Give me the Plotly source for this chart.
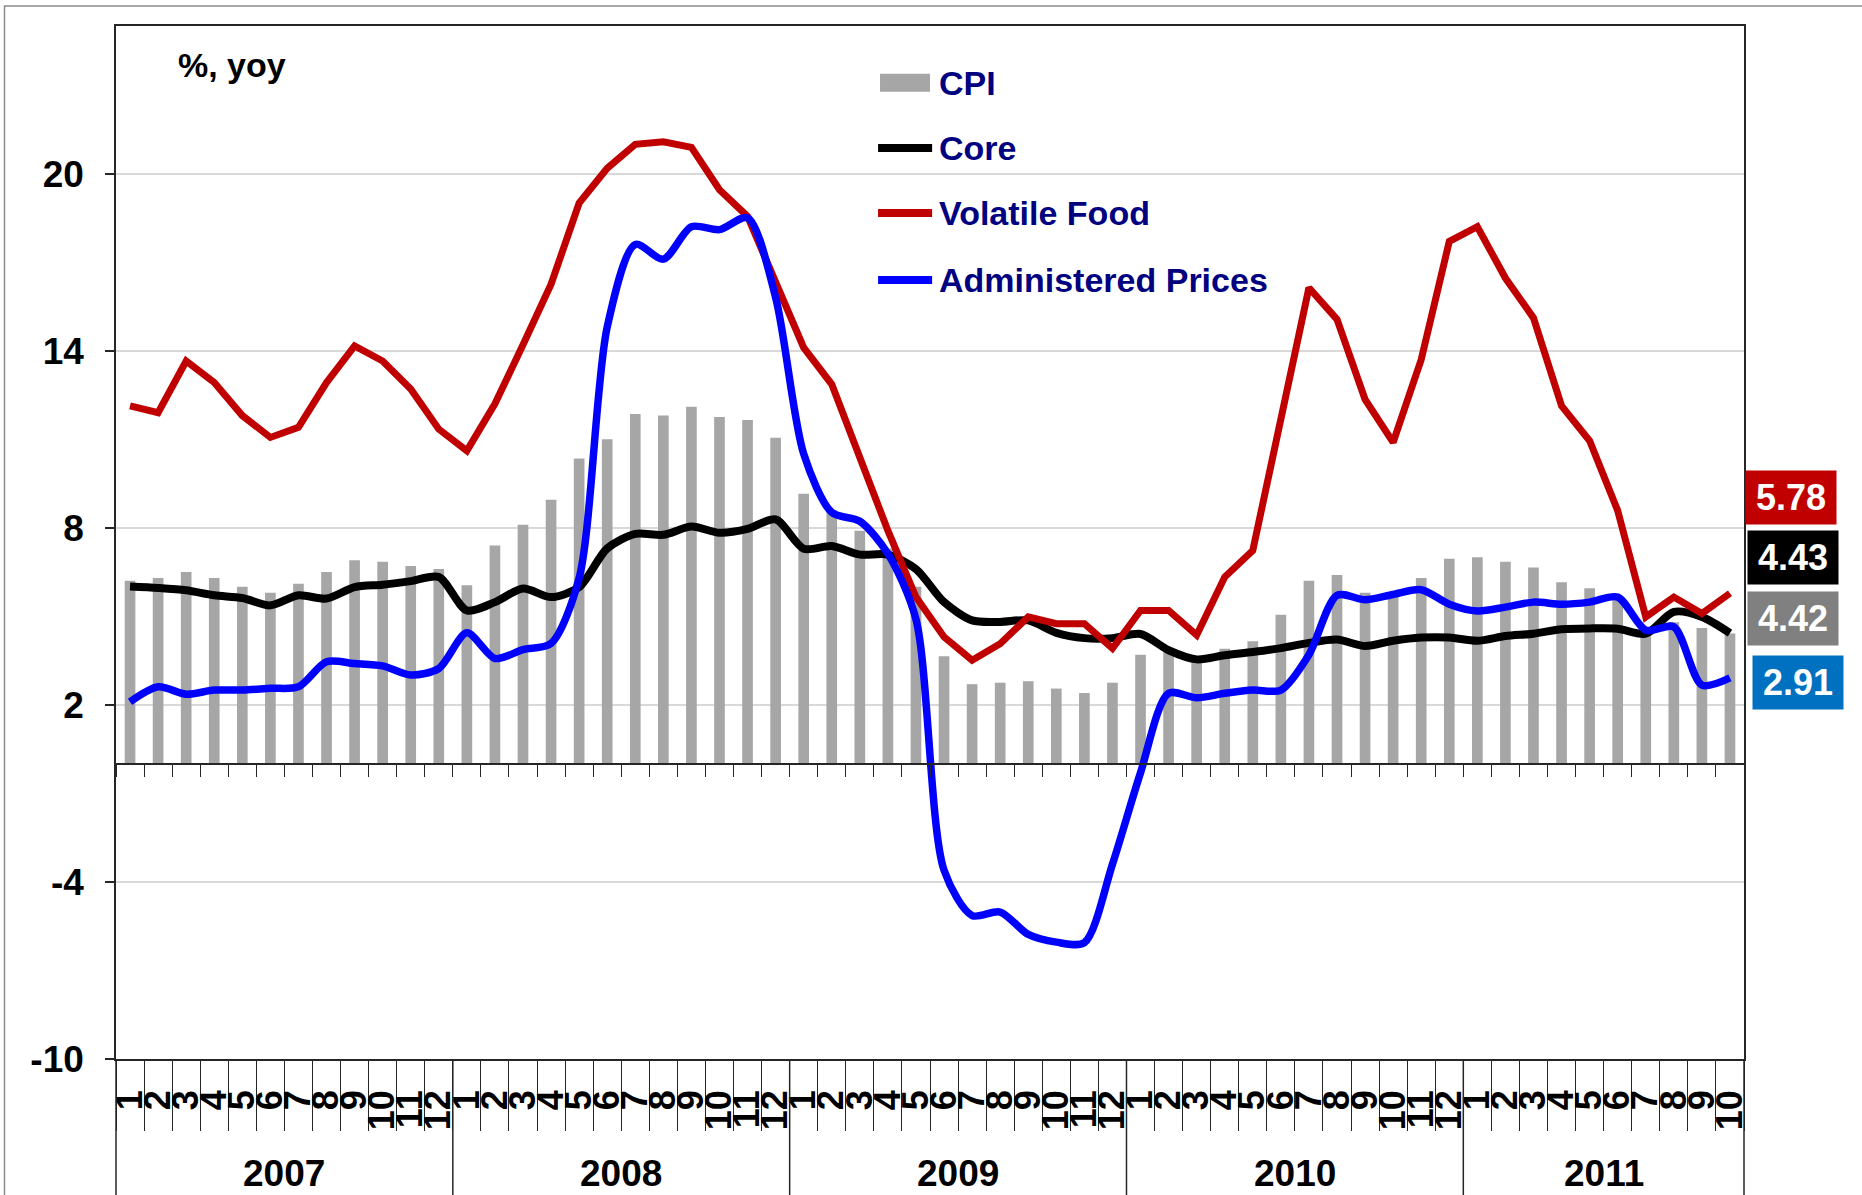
import plotly.graph_objects as go

# ---------------- data ----------------
years = ["2007", "2008", "2009", "2010", "2011"]
months_in_year = [12, 12, 12, 12, 10]
month_labels = (
    ["1", "2", "3", "4", "5", "6", "7", "8", "9", "10", "11", "12"] * 4
    + ["1", "2", "3", "4", "5", "6", "7", "8", "9", "10"]
)
categories = [f"{y}-{m}" for y, n in zip(years, months_in_year) for m in month_labels[:n]]

cpi = [6.2, 6.3, 6.5, 6.3, 6.0, 5.8, 6.1, 6.5, 6.9, 6.85, 6.7, 6.6,
       6.05, 7.4, 8.1, 8.95, 10.35, 11.0, 11.85, 11.8, 12.1, 11.75, 11.65, 11.05,
       9.15, 8.6, 7.9, 7.3, 6.0, 3.65, 2.7, 2.75, 2.8, 2.55, 2.4, 2.75,
       3.7, 3.8, 3.45, 3.9, 4.15, 5.05, 6.2, 6.4, 5.8, 5.65, 6.3, 6.95,
       7.0, 6.85, 6.65, 6.15, 5.95, 5.55, 4.6, 4.8, 4.6, 4.42]

core = [6.01, 5.96, 5.88, 5.71, 5.62, 5.37, 5.71, 5.60, 5.99, 6.07, 6.19, 6.33,
        5.20, 5.48, 5.94, 5.65, 5.99, 7.30, 7.79, 7.76, 8.04, 7.83, 7.96, 8.28,
        7.29, 7.38, 7.09, 7.09, 6.60, 5.48, 4.86, 4.81, 4.86, 4.44, 4.26, 4.26,
        4.40, 3.85, 3.54, 3.68, 3.79, 3.92, 4.10, 4.21, 3.99, 4.17, 4.28, 4.28,
        4.17, 4.33, 4.41, 4.56, 4.59, 4.58, 4.41, 5.15, 4.98, 4.43]

volatile_food = [12.13, 11.9, 13.65, 12.92, 11.8, 11.06, 11.4, 12.92, 14.16, 13.65, 12.7, 11.34,
                 10.61, 12.2, 14.2, 16.25, 19.0, 20.18, 20.99, 21.08, 20.89, 19.45, 18.55, 16.3,
                 14.1, 12.86, 10.4, 7.9, 5.65, 4.3, 3.51, 4.07, 4.98, 4.75, 4.75, 3.91,
                 5.2, 5.2, 4.36, 6.33, 7.23, 11.7, 16.13, 15.06, 12.35, 10.89, 13.7, 17.7,
                 18.2, 16.46, 15.11, 12.13, 10.95, 8.58, 4.98, 5.65, 5.09, 5.78]

administered = [2.10, 2.61, 2.36, 2.50, 2.50, 2.56, 2.61, 3.46, 3.40, 3.32, 3.01, 3.23,
                4.44, 3.57, 3.87, 4.08, 6.3, 14.8, 17.6, 17.1, 18.2, 18.1, 18.5, 15.8,
                10.5, 8.52, 8.22, 7.12, 4.9, -3.6, -5.14, -5.02, -5.78, -6.04, -6.06, -3.4,
                -0.3, 2.39, 2.24, 2.39, 2.5, 2.5, 3.7, 5.71, 5.56, 5.74, 5.90, 5.41,
                5.18, 5.31, 5.48, 5.41, 5.48, 5.65, 4.53, 4.64, 2.67, 2.91]

series_names = ["CPI", "Core", "Volatile Food", "Administered Prices"]
y_min, y_max = -10, 25
y_ticks = [-10, -4, 2, 8, 14, 20]

# ---------------- style ----------------
FONT = "Liberation Sans, Arial, sans-serif"
C_CPI, C_CORE, C_FOOD, C_ADM = "#a6a6a6", "#000000", "#c00000", "#0000ff"
C_LABEL_ADM = "#0070c0"
AX = "#262626"
n = len(categories)

fig = go.Figure()
fig.add_trace(go.Bar(x=categories, y=cpi, name=series_names[0], marker_color=C_CPI,
                     marker_line_width=0, showlegend=False))
fig.add_trace(go.Scatter(x=categories, y=core, name=series_names[1], mode="lines",
                         line=dict(color=C_CORE, width=8, shape="spline", smoothing=0.8),
                         showlegend=False))
fig.add_trace(go.Scatter(x=categories, y=volatile_food, name=series_names[2], mode="lines",
                         line=dict(color=C_FOOD, width=7), showlegend=False))
fig.add_trace(go.Scatter(x=categories, y=administered, name=series_names[3], mode="lines",
                         line=dict(color=C_ADM, width=7.5, shape="spline", smoothing=0.8),
                         showlegend=False))
# empty helper traces so the overlay axes (zero line, month labels) get drawn
for ax_id in ("x2", "x3"):
    fig.add_trace(go.Scatter(x=[0], y=[None], xaxis=ax_id, yaxis="y", mode="lines",
                             showlegend=False, hoverinfo="skip"))

zero_pos = (0 - y_min) / (y_max - y_min)
xr = [-0.5, n - 0.5]

fig.update_layout(
    width=1862, height=1195,
    margin=dict(l=116, r=118, t=26, b=136),
    plot_bgcolor="white", paper_bgcolor="white",
    bargap=0.62,
    font=dict(family=FONT, color="black"),
    xaxis=dict(type="category", range=xr, showgrid=False, zeroline=False,
               showline=True, mirror=True, linecolor=AX, linewidth=1.5,
               ticks="outside", tickson="boundaries", ticklen=70, tickcolor=AX, tickwidth=1.2,
               showticklabels=False),
    xaxis3=dict(overlaying="x", anchor="y", side="bottom", range=xr,
                tickmode="array", tickvals=list(range(n)), ticktext=month_labels,
                tickangle=-90, ticks="", showline=False, showgrid=False, zeroline=False,
                ticklabelstandoff=23,
                tickfont=dict(family=FONT, size=36, color="black", weight="bold")),
    xaxis2=dict(overlaying="x", anchor="free", position=zero_pos, range=xr,
                tickmode="array", tickvals=[i - 0.5 for i in range(n + 1)],
                ticks="outside", ticklen=12, tickcolor=AX, tickwidth=1.2,
                showticklabels=False, showline=True, linecolor=AX, linewidth=2,
                showgrid=False, zeroline=False),
    yaxis=dict(range=[y_min, y_max], tickmode="array", tickvals=y_ticks,
               ticktext=[str(v) for v in y_ticks], showgrid=True,
               gridcolor="#d9d9d9", gridwidth=1.5, zeroline=False,
               showline=True, mirror=True, linecolor=AX, linewidth=1.5,
               ticks="outside", ticklen=9, tickcolor=AX, tickwidth=1.5,
               ticklabelstandoff=14,
               tickfont=dict(family=FONT, size=37, color="black", weight="bold")),
)

shapes = []
annotations = []

# outer chart frame
shapes.append(dict(type="rect", xref="paper", yref="paper",
                   x0=-0.0685, x1=1.085, y0=-0.16, y1=1.0194,
                   line=dict(color="#8c8c8c", width=1.5), fillcolor="rgba(0,0,0,0)"))

# year dividers and labels
start = 0
bounds = [0]
for yr, cnt in zip(years, months_in_year):
    annotations.append(dict(x=start + (cnt - 1) / 2, y=-0.111, xref="x", yref="paper",
                            text=yr, showarrow=False, yanchor="middle", xanchor="center",
                            font=dict(family=FONT, size=37, color="black", weight="bold")))
    start += cnt
    bounds.append(start)
for b in bounds:
    shapes.append(dict(type="line", xref="paper", yref="paper", x0=b / n, x1=b / n,
                       y0=0, y1=-0.16, line=dict(color=AX, width=1.5)))

# unit label
annotations.append(dict(x=0.0369, y=0.962, xref="paper", yref="paper", text="%, yoy",
                        showarrow=False, xanchor="left", yanchor="middle",
                        font=dict(family=FONT, size=34, color="black", weight="bold")))

# custom legend
leg_rows = [0.9451, 0.8819, 0.819, 0.7541]
leg_colors = [C_CPI, C_CORE, C_FOOD, C_ADM]
for i, (nm, col, yy) in enumerate(zip(series_names, leg_colors, leg_rows)):
    if i == 0:
        shapes.append(dict(type="rect", xref="paper", yref="paper", x0=0.4693, x1=0.5,
                           y0=yy - 0.0087, y1=yy + 0.0087, fillcolor=col, line=dict(width=0)))
    else:
        shapes.append(dict(type="line", xref="paper", yref="paper", x0=0.4681, x1=0.5013,
                           y0=yy, y1=yy, line=dict(color=col, width=8)))
    annotations.append(dict(x=0.5043, y=yy, xref="paper", yref="paper", text=nm,
                            showarrow=False, xanchor="left", yanchor="middle",
                            font=dict(family=FONT, size=34, color="#000080", weight="bold")))

# last-value boxes
last_vals = [(volatile_food[-1], C_FOOD, 1.029, 0.5436),
             (core[-1], C_CORE, 1.0301, 0.485),
             (cpi[-1], "#808080", 1.0301, 0.426),
             (administered[-1], C_LABEL_ADM, 1.0332, 0.3645)]
for v, col, xx, yy in last_vals:
    annotations.append(dict(x=xx, y=yy, xref="paper", yref="paper", text=f"{v:.2f}",
                            showarrow=False, xanchor="center", yanchor="middle",
                            bgcolor=col, width=86, height=49, borderpad=2,
                            font=dict(family=FONT, size=36, color="white", weight="bold")))

fig.update_layout(shapes=shapes, annotations=annotations)

fig.write_html("out.html", config={"displayModeBar": False},
               post_script="document.body.style.margin='0';document.body.style.overflow='hidden';")
